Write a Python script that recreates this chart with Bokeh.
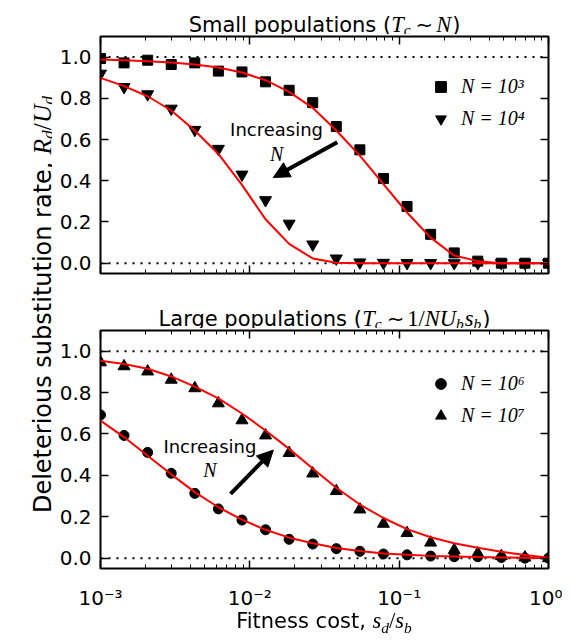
from math import pi
from bokeh.plotting import figure
from bokeh.layouts import row, column
from bokeh.models import (Range1d, FixedTicker, NumeralTickFormatter, Div,
                          CustomJSTickFormatter, LinearAxis, LogAxis, Span, Arrow, NormalHead,
                          Label, Legend, LegendItem)
from bokeh.embed import file_html
from bokeh.resources import INLINE

# ---------------- data ----------------
x_cost = [0.001, 0.001438, 0.002069, 0.002976, 0.004281, 0.006158, 0.008859, 0.01274,
          0.01833, 0.02637, 0.03793, 0.05456, 0.07848, 0.1129, 0.1624, 0.2336,
          0.3360, 0.4833, 0.6952, 1.0]

small_n3_pts = [0.993, 0.972, 0.985, 0.964, 0.972, 0.932, 0.928, 0.880, 0.839, 0.779,
                0.663, 0.550, 0.411, 0.275, 0.140, 0.050, 0.010, 0.000, 0.000, 0.000]
small_n3_fit = [0.989, 0.985, 0.980, 0.974, 0.964, 0.950, 0.925, 0.888, 0.831, 0.754,
                0.644, 0.522, 0.384, 0.246, 0.124, 0.037, 0.010, 0.000, 0.000, 0.000]
small_n4_pts = [0.920, 0.855, 0.820, 0.750, 0.647, 0.555, 0.430, 0.306, 0.192, 0.091,
                0.023, 0.004, 0.002, 0.001, 0.001, 0.000, 0.000, 0.000, 0.000, 0.000]
small_n4_fit = [0.899, 0.859, 0.810, 0.741, 0.644, 0.530, 0.380, 0.213, 0.094, 0.023,
                0.002, 0.000, 0.000, 0.000, 0.000, 0.000, 0.000, 0.000, 0.000, 0.000]

large_n6_pts = [0.692, 0.593, 0.511, 0.410, 0.313, 0.238, 0.184, 0.137, 0.091, 0.068,
                0.046, 0.033, 0.020, 0.016, 0.010, 0.007, 0.007, 0.003, 0.000, 0.000]
large_n6_fit = [0.665, 0.585, 0.495, 0.405, 0.319, 0.246, 0.186, 0.137, 0.099, 0.072,
                0.049, 0.034, 0.023, 0.016, 0.011, 0.008, 0.005, 0.003, 0.002, 0.000]
large_n7_pts = [0.946, 0.927, 0.902, 0.862, 0.821, 0.748, 0.666, 0.593, 0.508, 0.409,
                0.324, 0.235, 0.166, 0.121, 0.075, 0.039, 0.023, 0.010, 0.003, 0.000]
large_n7_fit = [0.954, 0.938, 0.915, 0.878, 0.829, 0.772, 0.699, 0.617, 0.528, 0.433,
                0.340, 0.259, 0.194, 0.140, 0.101, 0.072, 0.050, 0.031, 0.015, 0.002]

legend_small = ["N = 10³", "N = 10⁴"]
legend_large = ["N = 10⁶", "N = 10⁷"]
y_ticks = [0.0, 0.2, 0.4, 0.6, 0.8, 1.0]
x_ticks = [0.001, 0.01, 0.1, 1.0]
x_tick_labels = ["10⁻³", "10⁻²", "10⁻¹", "10⁰"]
x_minor = [k * 10.0 ** e for e in (-3, -2, -1) for k in range(2, 10)]

# ---------------- text helpers ----------------
SANS = "DejaVu Sans"
SERIF = "Liberation Serif"
W_SANS = {' ': 651, '(': 799, ')': 799, ',': 651, '/': 690, '.': 651, 'D': 1577, 'F': 1178,
          'I': 604, 'L': 1141, 'S': 1300, 'a': 1255, 'b': 1300, 'c': 1126, 'e': 1260,
          'g': 1300, 'i': 569, 'l': 569, 'm': 1995, 'n': 1298, 'o': 1253, 'p': 1300,
          'r': 842, 's': 1067, 't': 803, 'u': 1298, '∼': 1716, '1': 1303}
W_SERIF_IT = {'T': .556, 'c': .444, 'N': .667, 's': .389, 'd': .5, 'b': .5, 'R': .611, 'U': .722}
W_SERIF = {'1': .5, '/': .278}

SZ = 21       # titles and x label
MZ = 22.5     # math italic
SUB = 15.5    # subscripts
SUBDY = -5
YSZ = 24      # y label
YMZ = 25.5
YSUB = 17.5
YSUBDY = -5.5
TICK = 20     # tick labels
ANN = 18      # "Increasing" annotation


def text_width(txt, font, style, size):
    if font == SANS:
        return sum(W_SANS.get(ch, 1250) for ch in txt) / 2048.0 * size
    tbl = W_SERIF_IT if style == "italic" else W_SERIF
    return sum(tbl.get(ch, 0.5) for ch in txt) * size


def seg_w(s):
    if s[0] is None:
        return s[1]
    return text_width(s[0], s[1], s[2], s[3])


def rich_text(p, cx, cy, segs, vertical=False):
    total = sum(seg_w(s) for s in segs)
    pos = (cy if vertical else cx) - total / 2.0
    for s in segs:
        if s[0] is not None:
            t, f, st, sz, dy = s
            kw = dict(text=t, text_font=f, text_font_style=st, text_font_size=f"{sz}px",
                      text_color="black", text_align="left", text_baseline="alphabetic",
                      x_units="screen", y_units="screen")
            if vertical:
                lab = Label(x=cx - dy, y=pos, angle=pi / 2, **kw)
            else:
                lab = Label(x=pos, y=cy + dy, **kw)
            p.add_layout(lab)
        pos += seg_w(s)


def strip(width, height):
    s = figure(width=width, height=height, x_range=Range1d(0, 1), y_range=Range1d(0, 1),
               x_axis_type=None, y_axis_type=None, output_backend="svg",
               toolbar_location=None, min_border=0)
    s.outline_line_color = None
    s.xgrid.visible = False
    s.ygrid.visible = False
    return s


def style_axis(ax, hide_labels=False):
    ax.axis_line_color = None
    ax.major_tick_in = 8
    ax.major_tick_out = 0
    ax.minor_tick_in = 4
    ax.minor_tick_out = 0
    ax.major_tick_line_color = "black"
    ax.minor_tick_line_color = "black"
    ax.major_tick_line_width = 1.5
    ax.minor_tick_line_width = 1
    ax.major_label_text_font = SANS
    ax.major_label_text_font_size = f"{TICK}px"
    ax.major_label_text_color = "black"
    ax.axis_label = None
    if hide_labels:
        ax.formatter = CustomJSTickFormatter(code="return '';")
        ax.major_label_text_font_size = "0px"
        ax.major_label_standoff = 0


def panel(height, b_bottom, show_x):
    p = figure(width=510, height=height, x_axis_type="log",
               x_range=Range1d(1e-3, 1.0), y_range=Range1d(-0.05, 1.1),
               output_backend="svg", toolbar_location=None,
               min_border_left=48, min_border_right=14,
               min_border_top=2, min_border_bottom=b_bottom)
    p.xgrid.visible = False
    p.ygrid.visible = False
    p.outline_line_color = "black"
    p.outline_line_width = 2
    xa = p.xaxis[0]
    ya = p.yaxis[0]
    style_axis(xa, hide_labels=not show_x)
    style_axis(ya)
    xa.ticker = FixedTicker(ticks=x_ticks, minor_ticks=x_minor)
    if show_x:
        xa.formatter = CustomJSTickFormatter(args=dict(labels=x_tick_labels),
                                             code="return labels[index];")
        xa.major_label_standoff = 17
    ya.ticker = FixedTicker(ticks=y_ticks)
    ya.formatter = NumeralTickFormatter(format="0.0")
    ya.major_label_standoff = 9
    top = LogAxis(ticker=FixedTicker(ticks=x_ticks, minor_ticks=x_minor))
    style_axis(top, hide_labels=True)
    right = LinearAxis(ticker=FixedTicker(ticks=y_ticks))
    style_axis(right, hide_labels=True)
    p.add_layout(top, "above")
    p.add_layout(right, "right")
    for loc in (0.0, 1.0):
        p.add_layout(Span(location=loc, dimension="width", line_color="black",
                          line_width=2, line_dash="2 6", level="underlay"))
    return p


def add_legend(p, renderers, labels, bottom):
    leg = Legend(items=[LegendItem(label=l, renderers=[r]) for l, r in zip(labels, renderers)],
                 location=(327, bottom), orientation="vertical",
                 glyph_width=27, glyph_height=27, label_height=27, label_standoff=7,
                 spacing=5, padding=0, margin=0, border_line_color=None,
                 background_fill_alpha=0, label_text_font=SERIF,
                 label_text_font_style="italic", label_text_font_size="20px",
                 label_text_color="black")
    p.add_layout(leg)


def arrow(p, xs, ys, xe, ye):
    p.add_layout(Arrow(end=NormalHead(size=16, fill_color="black", line_color="black"),
                       x_start=xs, y_start=ys, x_end=xe, y_end=ye,
                       line_width=4, line_color="black"))


def increasing(p, x, y, yn):
    p.add_layout(Label(x=x, y=y, text="Increasing", text_font=SANS, text_font_size=f"{ANN}px",
                       text_align="center", text_baseline="middle", text_color="black"))
    p.add_layout(Label(x=x, y=yn, text="N", text_font=SERIF, text_font_style="italic",
                       text_font_size="20px", text_align="center", text_baseline="middle",
                       text_color="black"))


FRAME_CX = 224   # centre of the (frame-aligned) strips

# ---------------- top title ----------------
t1 = strip(510, 34)
rich_text(t1, FRAME_CX, 10, [
    ("Small populations (", SANS, "normal", SZ, 0),
    ("T", SERIF, "italic", MZ, 0), ("c", SERIF, "italic", SUB, SUBDY), (None, 5),
    ("∼", SANS, "normal", SZ, 0), (None, 3),
    ("N", SERIF, "italic", MZ, 0), (None, 1),
    (")", SANS, "normal", SZ, 0)])

# ---------------- top panel ----------------
p1 = panel(249, 10, False)
ra = p1.scatter(x_cost, small_n3_pts, marker="square", size=10, color="black")
rb = p1.scatter(x_cost, small_n4_pts, marker="inverted_triangle", size=12, color="black")
p1.line(x_cost, small_n3_fit, line_color="red", line_width=2)
p1.line(x_cost, small_n4_fit, line_color="red", line_width=2)
add_legend(p1, [ra, rb], legend_small, 141)
arrow(p1, 0.0385, 0.587, 0.01436, 0.416)
increasing(p1, 0.0151, 0.647, 0.53)

# ---------------- bottom title ----------------
t2 = strip(510, 45)
rich_text(t2, FRAME_CX, 10, [
    ("Large populations (", SANS, "normal", SZ, 0),
    ("T", SERIF, "italic", MZ, 0), ("c", SERIF, "italic", SUB, SUBDY), (None, 5),
    ("∼", SANS, "normal", SZ, 0), (None, 3),
    ("1/", SERIF, "normal", MZ, 0),
    ("N", SERIF, "italic", MZ, 0), ("U", SERIF, "italic", MZ, 0),
    ("b", SERIF, "italic", SUB, SUBDY), (None, 1),
    ("s", SERIF, "italic", MZ, 0), ("b", SERIF, "italic", SUB, SUBDY), (None, 1),
    (")", SANS, "normal", SZ, 0)])

# ---------------- bottom panel ----------------
p2 = panel(284, 44, True)
rc = p2.scatter(x_cost, large_n6_pts, marker="circle", size=10, color="black")
rd = p2.scatter(x_cost, large_n7_pts, marker="triangle", size=12, color="black")
p2.line(x_cost, large_n6_fit, line_color="red", line_width=2)
p2.line(x_cost, large_n7_fit, line_color="red", line_width=2)
add_legend(p2, [rc, rd], legend_large, 139.5)
arrow(p2, 0.00743, 0.311, 0.01436, 0.522)
increasing(p2, 0.0054, 0.541, 0.424)

# ---------------- x label (HTML, placed in the window under the lower frame) ----------------
IT = "font-family:'Liberation Serif';font-style:italic;"
xlabel_html = (
    '<div style="position:fixed;left:100px;top:607px;width:448px;height:28px;margin:0;'
    'padding:0;text-align:center;white-space:nowrap;font-family:\'DejaVu Sans\';'
    'font-size:21px;line-height:28px;color:#000;z-index:10;">'
    'Fitness cost,&nbsp;'
    f'<span style="{IT}font-size:22.5px">s</span>'
    f'<span style="{IT}font-size:15.5px;position:relative;top:5px">d</span>'
    '<span style="font-family:\'Liberation Serif\';font-size:22.5px">/</span>'
    f'<span style="{IT}font-size:22.5px">s</span>'
    f'<span style="{IT}font-size:15.5px;position:relative;top:5px">b</span>'
    '</div>')
t3 = Div(text=xlabel_html, width=510, height=4)

# ---------------- shared y label ----------------
pl = strip(52, 616)
rich_text(pl, 42, 312, [
    ("Deleterious substitution rate,", SANS, "normal", YSZ, 0), (None, 7),
    ("R", SERIF, "italic", YMZ, 0), ("d", SERIF, "italic", YSUB, YSUBDY),
    ("/", SERIF, "normal", YMZ, 0),
    ("U", SERIF, "italic", YMZ, 0), ("d", SERIF, "italic", YSUB, YSUBDY)], vertical=True)

layout = row(pl, column(t1, p1, t2, p2, t3))
open("out.html", "w").write(file_html(layout, INLINE))
